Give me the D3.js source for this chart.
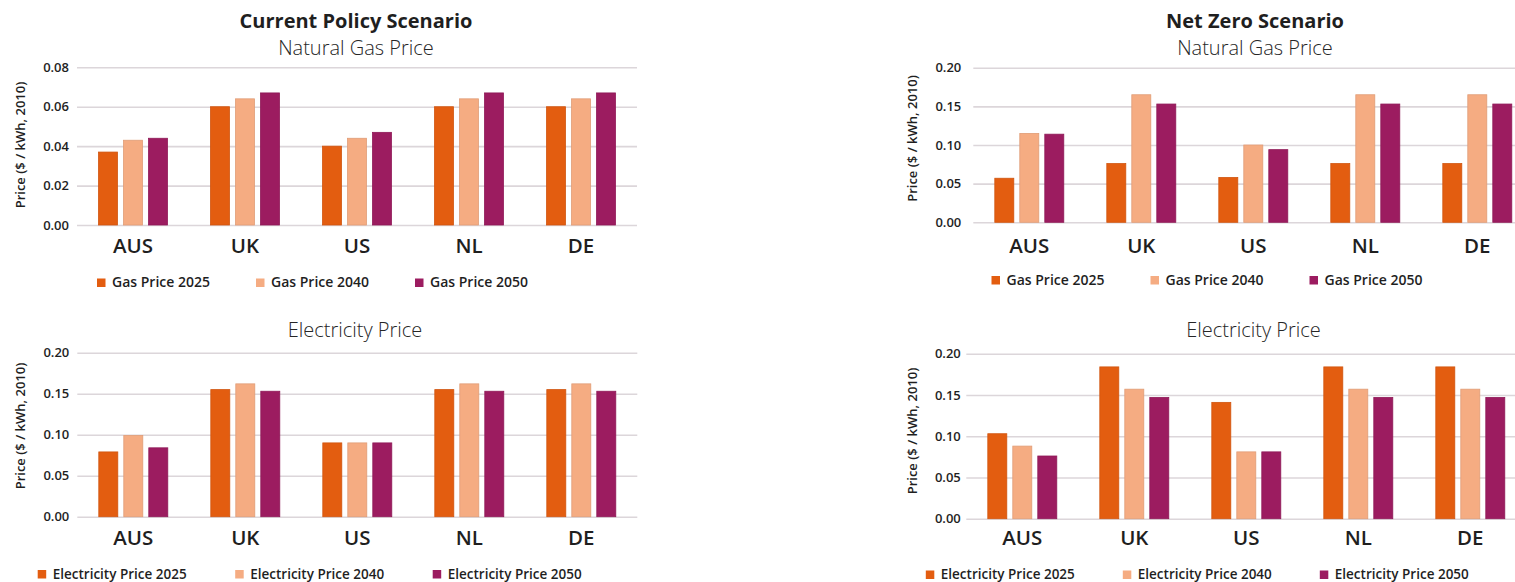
<!DOCTYPE html>
<html>
<head>
<meta charset="utf-8">
<script src="https://cdn.jsdelivr.net/npm/d3@7"></script>
<style>
  html, body { margin: 0; padding: 0; background: #ffffff; }
  svg { display: block; font-family: "Open Sans", "Noto Sans", sans-serif; }
</style>
</head>
<body>
<svg id="chart" width="1515" height="582"></svg>
<script>
// ---- Data -----------------------------------------------------------------
const countries = ["AUS", "UK", "US", "NL", "DE"];
const years = ["2025", "2040", "2050"];

// Current Policy Scenario ($ / kWh, 2010)
const cpGas2025 = [0.037, 0.060, 0.040, 0.060, 0.060];
const cpGas2040 = [0.043, 0.064, 0.044, 0.064, 0.064];
const cpGas2050 = [0.044, 0.067, 0.047, 0.067, 0.067];
const cpElec2025 = [0.079, 0.155, 0.090, 0.155, 0.155];
const cpElec2040 = [0.099, 0.162, 0.090, 0.162, 0.162];
const cpElec2050 = [0.084, 0.153, 0.090, 0.153, 0.153];

// Net Zero Scenario ($ / kWh, 2010)
const nzGas2025 = [0.057, 0.076, 0.058, 0.076, 0.076];
const nzGas2040 = [0.115, 0.165, 0.100, 0.165, 0.165];
const nzGas2050 = [0.114, 0.153, 0.094, 0.153, 0.153];
const nzElec2025 = [0.103, 0.184, 0.141, 0.184, 0.184];
const nzElec2040 = [0.088, 0.157, 0.081, 0.157, 0.157];
const nzElec2050 = [0.076, 0.147, 0.081, 0.147, 0.147];

// Axis ticks
const gasTicksCP = [0.00, 0.02, 0.04, 0.06, 0.08];
const priceTicks = [0.00, 0.05, 0.10, 0.15, 0.20];

const yAxisTitle = "Price ($ / kWh, 2010)";
const seriesColors = ["#e35d10", "#f5ac82", "#9c1c60"];

// ---- Panels ---------------------------------------------------------------
const panels = [
  {
    heading: "Current Policy Scenario", subtitle: "Natural Gas Price",
    series: [cpGas2025, cpGas2040, cpGas2050], ticks: gasTicksCP, legendPrefix: "Gas Price ",
    left: 77, right: 637, top: 67.3, bottom: 225, titleX: 356, headY: 27.5, subY: 55,
    labelY: 252.5, tickGap: 8, axisX: 20, axisY: 145,
    legendX: 97, legendStep: 159, legendY: 278.5, legendBase: 287, legendFont: 14
  },
  {
    heading: "Net Zero Scenario", subtitle: "Natural Gas Price",
    series: [nzGas2025, nzGas2040, nzGas2050], ticks: priceTicks, legendPrefix: "Gas Price ",
    left: 973.3, right: 1533.3, top: 67.7, bottom: 222.3, titleX: 1255, headY: 27.5, subY: 55,
    labelY: 252.5, tickGap: 12, axisX: 912.5, axisY: 138.5,
    legendX: 991.5, legendStep: 159, legendY: 276, legendBase: 285, legendFont: 14
  },
  {
    heading: null, subtitle: "Electricity Price",
    series: [cpElec2025, cpElec2040, cpElec2050], ticks: priceTicks, legendPrefix: "Electricity Price ",
    left: 77.3, right: 637.3, top: 352.7, bottom: 516.7, titleX: 355, headY: null, subY: 336.7,
    labelY: 544.5, tickGap: 8, axisX: 20, axisY: 426,
    legendX: 37.7, legendStep: 197.5, legendY: 570, legendBase: 578.5, legendFont: 13.5
  },
  {
    heading: null, subtitle: "Electricity Price",
    series: [nzElec2025, nzElec2040, nzElec2050], ticks: priceTicks, legendPrefix: "Electricity Price ",
    left: 966.3, right: 1526.3, top: 353.7, bottom: 518.7, titleX: 1253.5, headY: null, subY: 336.7,
    labelY: 545, tickGap: 5.5, axisX: 912.5, axisY: 431,
    legendX: 925.8, legendStep: 197, legendY: 570.5, legendBase: 579, legendFont: 13.5
  }
];

const svg = d3.select("#chart");
const ink = "#1f1f1f";

panels.forEach(p => {
  const g = svg.append("g");

  const x0 = d3.scaleBand().domain(countries).range([p.left, p.right])
    .paddingInner(0.384).paddingOuter(0.192);
  const x1 = d3.scaleBand().domain(years).range([0, x0.bandwidth()]).paddingInner(0.24);
  const y = d3.scaleLinear().domain([p.ticks[0], p.ticks[p.ticks.length - 1]])
    .range([p.bottom, p.top]);

  // gridlines + tick labels
  const yAxis = g.append("g")
    .attr("transform", `translate(${p.left},0)`)
    .call(d3.axisLeft(y).tickValues(p.ticks).tickFormat(d3.format(".2f"))
      .tickSize(-(p.right - p.left)).tickPadding(p.tickGap));
  yAxis.select(".domain").remove();
  yAxis.selectAll(".tick line").attr("stroke", "#dcd6da").attr("stroke-width", 1.6);
  yAxis.selectAll(".tick text")
    .attr("fill", ink).attr("font-size", 13).attr("font-weight", 600)
    .attr("font-family", "'Open Sans', 'Noto Sans', sans-serif");

  // bars
  const rows = countries.map((c, i) => ({ c, vals: p.series.map(s => s[i]) }));
  g.append("g").selectAll("g").data(rows).join("g")
    .attr("transform", d => `translate(${x0(d.c)},0)`)
    .selectAll("rect").data(d => d.vals.map((v, k) => ({ v, k })))
    .join("rect")
    .attr("x", d => x1(years[d.k]))
    .attr("width", x1.bandwidth())
    .attr("y", d => y(d.v))
    .attr("height", d => y(0) - y(d.v))
    .attr("fill", d => seriesColors[d.k])
    .attr("stroke", d => d3.color(seriesColors[d.k]).darker(0.25))
    .attr("stroke-width", 0.8);

  // category labels
  const xAxis = g.append("g")
    .attr("transform", `translate(0,${p.labelY})`)
    .call(d3.axisBottom(x0).tickSize(0).tickPadding(0));
  xAxis.select(".domain").remove();
  xAxis.selectAll(".tick text")
    .attr("dy", 0).attr("y", 0)
    .attr("fill", ink).attr("font-size", 20.5).attr("font-weight", 600)
    .attr("font-family", "'Open Sans', 'Noto Sans', sans-serif");

  // titles
  const cx = p.titleX;
  if (p.heading) {
    g.append("text").attr("x", cx).attr("y", p.headY)
      .attr("text-anchor", "middle").attr("font-size", 20).attr("font-weight", 700)
      .attr("fill", ink).text(p.heading);
  }
  g.append("text").attr("x", cx).attr("y", p.subY)
    .attr("text-anchor", "middle").attr("font-size", 20).attr("font-weight", 300)
    .attr("fill", "#262626").text(p.subtitle);

  // y-axis title
  g.append("text")
    .attr("transform", `translate(${p.axisX},${p.axisY}) rotate(-90)`)
    .attr("text-anchor", "middle").attr("dy", "0.35em")
    .attr("font-size", 13).attr("font-weight", 600).attr("fill", ink)
    .text(yAxisTitle);

  // legend
  const lg = g.append("g");
  years.forEach((yr, k) => {
    const lx = p.legendX + k * p.legendStep;
    lg.append("rect").attr("x", lx).attr("y", p.legendY)
      .attr("width", 8.5).attr("height", 8.5).attr("fill", seriesColors[k]);
    lg.append("text").attr("x", lx + 15).attr("y", p.legendBase)
      .attr("font-size", p.legendFont).attr("font-weight", 600).attr("fill", ink)
      .text(p.legendPrefix + yr);
  });
});
</script>
</body>
</html>
